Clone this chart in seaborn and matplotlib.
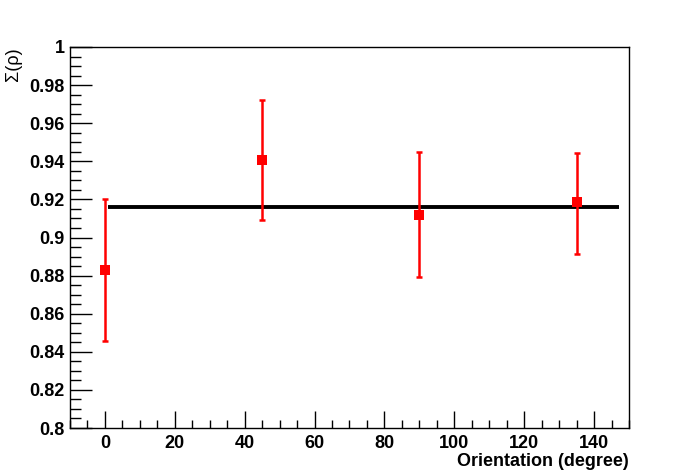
import numpy as np
import pandas as pd
import matplotlib
matplotlib.use("Agg")
import matplotlib.pyplot as plt
import seaborn as sns
from matplotlib.ticker import MultipleLocator

# data
orientation = [0, 45, 90, 135]
sigma = [0.883, 0.9407, 0.912, 0.9185]
err_low = [0.0373, 0.0315, 0.0326, 0.0272]
err_high = [0.0370, 0.0315, 0.0329, 0.0260]
fit_x = [0.9, 147.2]
fit_value = 0.9158

points = pd.DataFrame({"orientation": orientation, "sigma": sigma})
fit = pd.DataFrame({"x": fit_x, "y": [fit_value, fit_value]})

sns.set_theme(style="white")
plt.rcParams["font.family"] = ["Liberation Sans", "DejaVu Sans"]

fig = plt.figure(figsize=(6.98, 4.76), dpi=100)
ax = fig.add_axes([0.1003, 0.1008, 0.8008, 0.8005])

# fit line
sns.lineplot(data=fit, x="x", y="y", color="black", linewidth=2.8, ax=ax,
             zorder=2, solid_capstyle="butt")

# error bars + markers
ax.errorbar(orientation, sigma, yerr=[err_low, err_high], fmt="none",
            ecolor="red", elinewidth=1.8, capsize=2, capthick=1.8, zorder=3)
sns.scatterplot(data=points, x="orientation", y="sigma", marker="s", s=55,
                color="red", edgecolor="red", linewidth=0, ax=ax, zorder=4)

ax.set_xlim(-10, 150)
ax.set_ylim(0.8, 1.0)
ax.xaxis.set_major_locator(MultipleLocator(20))
ax.xaxis.set_minor_locator(MultipleLocator(5))
ax.yaxis.set_major_locator(MultipleLocator(0.02))
ax.yaxis.set_minor_locator(MultipleLocator(0.005))
ax.yaxis.set_major_formatter(plt.FuncFormatter(lambda v, p: f"{v:g}"))

for side in ["left", "right", "top", "bottom"]:
    ax.spines[side].set_color("black")
    ax.spines[side].set_linewidth(1.0)

ax.tick_params(axis="both", which="both", direction="in", color="black",
               width=1.0, top=False, right=False, left=True, bottom=True)
ax.tick_params(axis="y", which="major", length=16, pad=4)
ax.tick_params(axis="y", which="minor", length=8)
ax.tick_params(axis="x", which="major", length=12, pad=5)
ax.tick_params(axis="x", which="minor", length=6)
for lab in ax.get_xticklabels() + ax.get_yticklabels():
    lab.set_fontsize(13)
    lab.set_fontweight("bold")
    lab.set_color("black")

ax.set_xlabel("Orientation (degree)", fontsize=13, fontweight="bold",
              color="black", loc="right", labelpad=1)
ax.set_ylabel("")
fig.text(0.02, 0.9, "Σ(ρ)", rotation=90, fontsize=13, color="black",
         ha="center", va="top")

fig.savefig("out.png", dpi=100, facecolor="white")
